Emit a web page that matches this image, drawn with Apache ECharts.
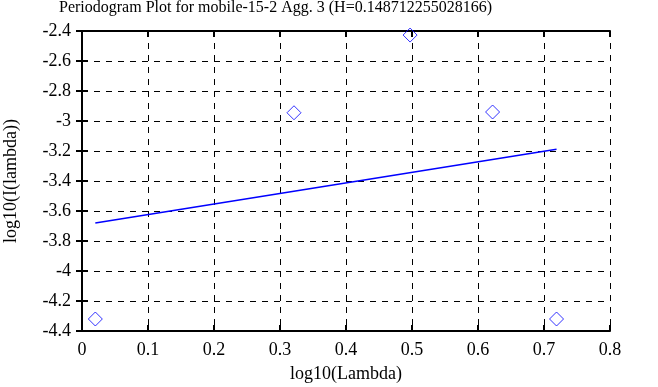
<!DOCTYPE html>
<html>
<head>
<meta charset="utf-8">
<script src="https://cdn.jsdelivr.net/npm/echarts@6/dist/echarts.min.js"></script>
<style>html,body{margin:0;padding:0;background:#fff;}#c{width:658px;height:387px;}</style>
</head>
<body>
<div id="c"></div>
<script>
const titleText = 'Periodogram Plot for mobile-15-2 Agg. 3 (H=0.148712255028166)';
const pointX = [0.0202, 0.3212, 0.4971, 0.6221, 0.7190];
const pointY = [-4.32, -2.945, -2.427, -2.94, -4.32];
const fitX = [0.0202, 0.7190];
const fitY = [-3.68, -3.189];
const xTicks = [0, 0.1, 0.2, 0.3, 0.4, 0.5, 0.6, 0.7, 0.8];
const yTicks = [-4.4, -4.2, -4, -3.8, -3.6, -3.4, -3.2, -3, -2.8, -2.6, -2.4];

const font = 'Liberation Serif';
const chart = echarts.init(document.getElementById('c'));
const axisLine = {show: true, lineStyle: {color: '#000', width: 2}};
const tick = {show: true, inside: true, length: 6, lineStyle: {color: '#000', width: 2}};
const grid = {show: true, lineStyle: {color: '#000', type: [6, 6], width: 1}};
const lbl = {color: '#000', fontFamily: font, fontSize: 18};
chart.setOption({
  animation: false,
  backgroundColor: '#fff',
  title: {text: titleText, left: 59, top: 0, padding: 0,
    textStyle: {fontFamily: font, fontSize: 16, fontWeight: 'normal', color: '#000'}},
  grid: {left: 82, right: 48, top: 31, bottom: 56, containLabel: false, outerBoundsMode: 'none'},
  xAxis: [
    {type: 'value', min: xTicks[0], max: xTicks[xTicks.length-1], interval: 0.1,
     name: 'log10(Lambda)', nameLocation: 'middle', nameGap: 34,
     nameTextStyle: lbl, axisLabel: Object.assign({margin: 10}, lbl),
     axisLine, axisTick: tick, splitLine: grid},
    {type: 'value', position: 'top', min: 0, max: 0.8, interval: 0.1,
     axisLabel: {show: false}, axisLine, axisTick: tick, splitLine: {show: false}}
  ],
  yAxis: [
    {type: 'value', min: yTicks[0], max: yTicks[yTicks.length-1], interval: 0.2,
     name: 'log10(I(lambda))', nameLocation: 'middle', nameGap: 62,
     nameTextStyle: lbl, axisLabel: Object.assign({margin: 11}, lbl),
     axisLine, axisTick: tick, splitLine: grid},
    {type: 'value', position: 'right', min: -4.4, max: -2.4, interval: 0.2,
     axisLabel: {show: false}, axisLine, axisTick: tick, splitLine: {show: false}}
  ],
  series: [
    {type: 'scatter', symbol: 'diamond', symbolSize: 14,
     data: pointX.map((x, i) => [x, pointY[i]]),
     itemStyle: {color: 'rgba(0,0,0,0)', borderColor: '#0000ff', borderWidth: 1}},
    {type: 'line', symbol: 'none', data: fitX.map((x, i) => [x, fitY[i]]),
     lineStyle: {color: '#0000ff', width: 1.5}}
  ]
});
</script>
</body>
</html>
